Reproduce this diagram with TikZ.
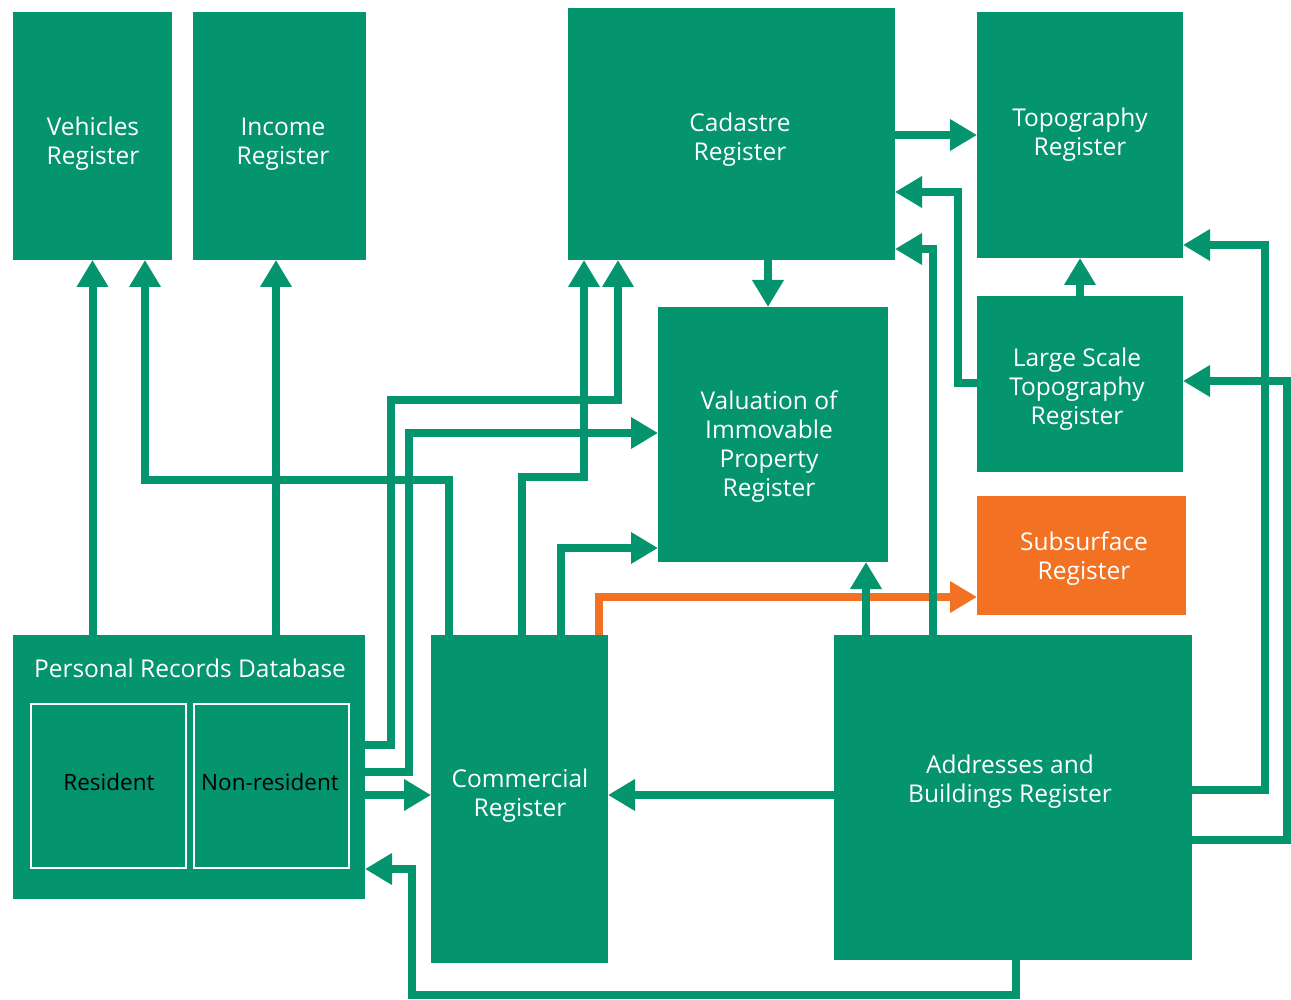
\documentclass[tikz,border=0pt]{standalone}
\usepackage{fontspec}
\setmainfont{Open Sans}
\usetikzlibrary{arrows.meta}

\definecolor{regGreen}{RGB}{4,148,110}
\definecolor{subOrange}{RGB}{242,113,34}

\tikzset{
  register/.style={fill=regGreen,inner sep=0pt,outer sep=0pt},
  regtext/.style={text=white,inner sep=0pt,align=center,font=\fontsize{24.5}{29}\selectfont},
  part/.style={draw=white,line width=2pt,fill=regGreen,text=black,inner sep=0pt,
    outer sep=0pt,font=\fontsize{22.5}{27}\selectfont},
  link/.style={draw=regGreen,line width=8pt,-{Triangle[length=27pt,width=30pt]}},
}

\begin{document}
\begin{tikzpicture}[x=1pt,y=-1pt]
    \useasboundingbox (0,0) rectangle (1291,1000);

    % top row
    \node[register,minimum width=159pt,minimum height=248pt] (vehicles) at (92.5,136) {};
    \node[regtext] (vehiclestext) at (93,144) {Vehicles\\Register};
    \node[register,minimum width=173pt,minimum height=248pt] (income) at (279.5,136) {};
    \node[regtext] (incometext) at (283,144) {Income\\Register};
    \node[register,minimum width=327pt,minimum height=252pt] (cadastre) at (731.5,134) {};
    \node[regtext] (cadastretext) at (740,140) {Cadastre\\Register};
    \node[register,minimum width=206pt,minimum height=246pt] (topography) at (1080,135) {};
    \node[regtext] (topographytext) at (1080,135) {Topography\\Register};

    % middle
    \node[register,minimum width=230pt,minimum height=255pt] (valuation) at (773,434.5) {};
    \node[regtext] (valuationtext) at (769,447) {Valuation of\\Immovable\\Property\\Register};
    \node[register,minimum width=206pt,minimum height=176pt] (largescale) at (1080,384) {};
    \node[regtext] (largescaletext) at (1077,389.5) {Large Scale\\Topography\\Register};
    \node[register,fill=subOrange,minimum width=209pt,minimum height=119pt] (subsurface) at (1081.5,555.5) {};
    \node[regtext] (subsurfacetext) at (1084,559) {Subsurface\\Register};

    % bottom row
    \node[register,minimum width=352pt,minimum height=264pt] (personal) at (189,767) {};
    \node[regtext] (personaltext) at (190,668) {Personal Records Database};
    \node[part,minimum width=155pt,minimum height=164pt] (resident) at (108.5,786) {};
    \node[part,text=black,fill=none,draw=none] (residenttext) at (109,782) {Resident};
    \node[part,minimum width=155pt,minimum height=164pt] (nonresident) at (271.5,786) {};
    \node[part,text=black,fill=none,draw=none] (nonresidenttext) at (270,782) {Non-resident};
    \node[register,minimum width=177pt,minimum height=328pt] (commercial) at (519.5,799) {};
    \node[regtext] (commercialtext) at (520,796) {Commercial\\Register};
    \node[register,minimum width=358pt,minimum height=325pt] (addresses) at (1013,797.5) {};
    \node[regtext] (addressestext) at (1010,782) {Addresses and\\Buildings Register};

    % personal records
    \draw[link] (vehicles.south |- personal.north) -- (vehicles.south);
    \draw[link] (276,0 |- personal.north) -- (276,0 |- income.south);
    \draw[link] (personal.east |- 0,745) -| (391,400) -| (618,0 |- cadastre.south);
    \draw[link] (personal.east |- 0,772) -| (409,433) -- (valuation.west |- 0,433);
    \draw[link] (personal.east |- 0,795) -- (commercial.west |- 0,795);

    % commercial
    \draw[link] (449,0 |- commercial.north) |- (145,480) -- (145,0 |- vehicles.south);
    \draw[link] (522,0 |- commercial.north) |- (584,477) -- (584,0 |- cadastre.south);
    \draw[link] (561,0 |- commercial.north) |- (valuation.west |- 0,548);
    \draw[link,draw=subOrange] (599,0 |- commercial.north) |- (subsurface.west |- 0,597);

    % cadastre and topography
    \draw[link] (768,0 |- cadastre.south) -- (768,0 |- valuation.north);
    \draw[link] (cadastre.east |- 0,135) -- (topography.west |- 0,135);
    \draw[link] (largescale.north) -- (topography.south);
    \draw[link] (largescale.west |- 0,383) -| (958,192) -- (cadastre.east |- 0,192);

    % addresses
    \draw[link] (addresses.west |- 0,795) -- (commercial.east |- 0,795);
    \draw[link] (866,0 |- addresses.north) -- (866,0 |- valuation.south);
    \draw[link] (933,0 |- addresses.north) |- (cadastre.east |- 0,249);
    \draw[link] (1016,0 |- addresses.south) |- (412,995) |- (personal.east |- 0,869);
    \draw[link] (addresses.east |- 0,790) -| (1265,245) -- (topography.east |- 0,245);
    \draw[link] (addresses.east |- 0,840) -| (1287,381) -- (largescale.east |- 0,381);
\end{tikzpicture}
\end{document}
